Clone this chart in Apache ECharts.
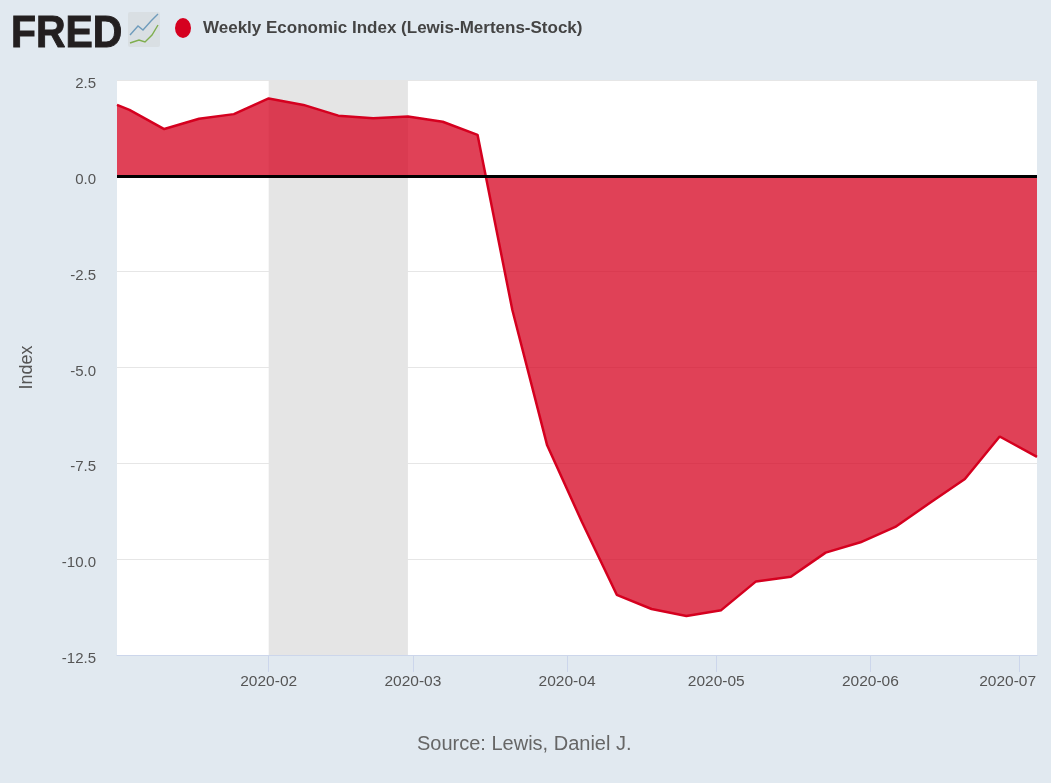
<!DOCTYPE html>
<html>
<head>
<meta charset="utf-8">
<style>html,body{margin:0;padding:0;background:#E1E9F0}#c{width:1051px;height:783px}</style>
<script src="https://cdn.jsdelivr.net/npm/echarts@6/dist/echarts.min.js"></script>
</head>
<body>
<div id="c"></div>
<script>
const seriesName = 'Weekly Economic Index (Lewis-Mertens-Stock)';
const dates = ['2020-01-01T12:00:00','2020-01-04','2020-01-11','2020-01-18','2020-01-25','2020-02-01','2020-02-08','2020-02-15','2020-02-22','2020-02-29','2020-03-07','2020-03-14','2020-03-21','2020-03-28','2020-04-04','2020-04-11','2020-04-18','2020-04-25','2020-05-02','2020-05-09','2020-05-16','2020-05-23','2020-05-30','2020-06-06','2020-06-13','2020-06-20','2020-06-27','2020-07-04T12:00:00'];
const values = [1.85,1.72,1.22,1.49,1.61,2.02,1.85,1.57,1.5,1.55,1.41,1.07,-3.5,-7.03,-9.03,-10.93,-11.3,-11.48,-11.33,-10.58,-10.46,-9.83,-9.56,-9.16,-8.53,-7.91,-6.8,-7.33];
const recession = ['2020-02-01','2020-02-29'];
const sourceText = 'Source: Lewis, Daniel J.';
const yTitle = 'Index';
const lineColor = '#D5001F';

const chart = echarts.init(document.getElementById('c'), null, {renderer:'canvas'});
chart.setOption({
  animation:false,
  backgroundColor:'#E1E9F0',
  grid:{left:117,top:80,width:920,height:575,show:true,backgroundColor:'#fff',borderWidth:0},
  legend:{
    left:170,top:13,icon:'path://M0,10a8,10 0 1,0 16,0a8,10 0 1,0 -16,0',itemWidth:16,itemHeight:20,itemGap:0,
    data:[seriesName],selectedMode:false,
    textStyle:{fontFamily:'"Liberation Sans",sans-serif',fontWeight:'bold',fontSize:17,color:'#444',padding:[0,0,0,7]}
  },
  xAxis:{
    type:'time',
    min:'2020-01-01T12:00:00',max:'2020-07-04T12:00:00',
    minInterval:28*86400000,maxInterval:31*86400000,
    axisLine:{onZero:false,lineStyle:{color:'#CCD6EB',width:1}},
    axisTick:{show:true,length:17,lineStyle:{color:'#CCD6EB',width:1}},
    splitLine:{show:false},
    axisLabel:{
      color:'#555',fontFamily:'"Liberation Sans",sans-serif',fontSize:15.5,margin:19,
      hideOverlap:false,showMinLabel:false,showMaxLabel:false,
      formatter:v=>{
        const d=new Date(v);
        const s=d.getFullYear()+'-'+String(d.getMonth()+1).padStart(2,'0');
        return d.getMonth()===6 ? '{last|'+s+'}' : s;
      },
      rich:{last:{color:'#555',fontFamily:'"Liberation Sans",sans-serif',fontSize:15.5,padding:[0,24,0,0]}}
    }
  },
  yAxis:{
    type:'value',min:-12.5,max:2.5,interval:2.5,
    name:yTitle,nameLocation:'middle',nameGap:81,
    nameTextStyle:{color:'#555',fontFamily:'"Liberation Sans",sans-serif',fontSize:18},
    axisLine:{show:false},axisTick:{show:false},
    splitLine:{show:true,lineStyle:{color:'#E6E6E6',width:1}},
    axisLabel:{
      color:'#555',margin:21,
      formatter:v=>'{t|'+v.toFixed(1)+'}',
      rich:{t:{color:'#555',fontFamily:'"Liberation Sans",sans-serif',fontSize:15,padding:[8,0,0,0]}}
    }
  },
  series:[{
    name:seriesName,type:'line',
    data:dates.map((d,i)=>[d,values[i]]),
    showSymbol:false,symbol:'none',
    itemStyle:{color:lineColor},
    lineStyle:{color:lineColor,width:2.5},
    areaStyle:{color:'#D5021F',opacity:0.75},
    markArea:{silent:true,itemStyle:{color:'#E5E5E5'},data:[[{xAxis:recession[0]},{xAxis:recession[1]}]],z:1},
    markLine:{silent:true,symbol:'none',label:{show:false},lineStyle:{color:'#000',width:3,type:'solid'},data:[{yAxis:0}]}
  }],
  graphic:[
    {type:'text',x:11,y:13,scaleX:0.93,style:{text:'FRED',font:'bold 44px "Liberation Sans",sans-serif',fill:'#231F20',stroke:'#231F20',lineWidth:1,verticalAlign:'top'}},
    {type:'rect',x:128,y:12,shape:{width:32,height:35,r:2},style:{fill:'#D9DFE3'}},
    {type:'polyline',x:130,y:14,shape:{points:[[0,21],[8,12],[13,16],[21,7],[28,0]]},style:{stroke:'#6F9CBC',lineWidth:1.4,fill:null}},
    {type:'polyline',x:130,y:25,shape:{points:[[0,18],[9,15],[15,17],[22,10],[28,0]]},style:{stroke:'#7FAE4E',lineWidth:1.4,fill:null}},
    {type:'text',left:417,top:734,style:{text:sourceText,font:'20px "Liberation Sans",sans-serif',fill:'#666'}}
  ]
});
</script>
</body>
</html>
